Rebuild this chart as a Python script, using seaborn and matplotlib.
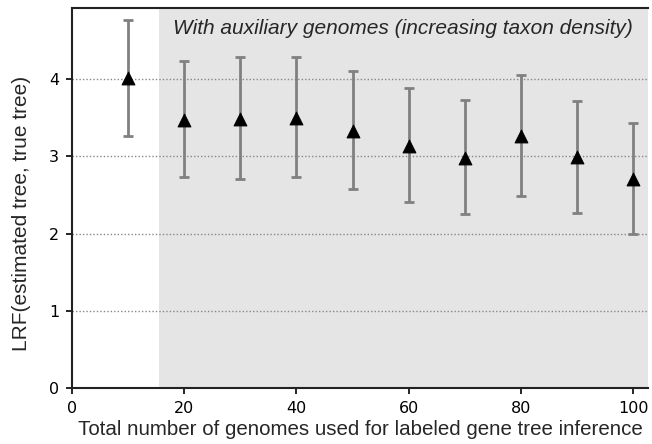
import matplotlib
matplotlib.use("Agg")
import matplotlib.pyplot as plt
import seaborn as sns
import pandas as pd

genomes = [10, 20, 30, 40, 50, 60, 70, 80, 90, 100]
lrf_mean = [4.02, 3.47, 3.48, 3.49, 3.33, 3.13, 2.98, 3.26, 2.99, 2.70]
lrf_upper = [4.77, 4.24, 4.29, 4.28, 4.10, 3.89, 3.73, 4.05, 3.72, 3.43]
lrf_lower = [3.26, 2.73, 2.71, 2.73, 2.58, 2.41, 2.25, 2.48, 2.27, 1.99]
x_ticks = [0, 20, 40, 60, 80, 100]
y_ticks = [0, 1, 2, 3, 4]

df = pd.DataFrame({"genomes": genomes, "mean": lrf_mean,
                   "upper": lrf_upper, "lower": lrf_lower})

sns.set_style("ticks")
plt.rcParams['font.family'] = ['Liberation Sans', 'DejaVu Sans']

fig = plt.figure(figsize=(6.52, 4.44), dpi=100)
ax = fig.add_axes([0.110, 0.126, 0.884, 0.856])

ax.axvspan(15.5, 110, color="#e5e5e5", zorder=0, lw=0)
for yv in y_ticks[1:]:
    ax.axhline(yv, color="#888888", ls=(0, (1, 1.5)), lw=1, zorder=1)

ax.errorbar(df["genomes"], df["mean"],
            yerr=[df["mean"] - df["lower"], df["upper"] - df["mean"]],
            fmt="none", ecolor="#808080", elinewidth=2, capsize=3.6,
            capthick=2, zorder=2)
sns.scatterplot(data=df, x="genomes", y="mean", marker="^", color="black",
                s=85, edgecolor="black", ax=ax, zorder=3)

ax.text(18.0, 4.65, "With auxiliary genomes (increasing taxon density)",
        fontsize=15, style="italic", va="center", ha="left")

ax.set_xlim(0, 102.6)
ax.set_ylim(0, 4.92)
ax.set_xticks(x_ticks)
ax.set_yticks(y_ticks)
ax.set_xticklabels([str(v) for v in x_ticks], family="DejaVu Sans")
ax.set_yticklabels([str(v) for v in y_ticks], family="DejaVu Sans")
ax.tick_params(labelsize=11.5, length=4, width=1.2, pad=5,
               color="black", labelcolor="black")
ax.set_xlabel("Total number of genomes used for labeled gene tree inference",
              fontsize=14.8, labelpad=3)
ax.set_ylabel("LRF(estimated tree, true tree)", fontsize=15)
ax.yaxis.set_label_coords(-0.071, 0.46)

for s in ["left", "bottom", "top"]:
    ax.spines[s].set_color("#222222")
    ax.spines[s].set_linewidth(1.5)
ax.spines["right"].set_visible(False)

fig.savefig("out.png", dpi=100)
